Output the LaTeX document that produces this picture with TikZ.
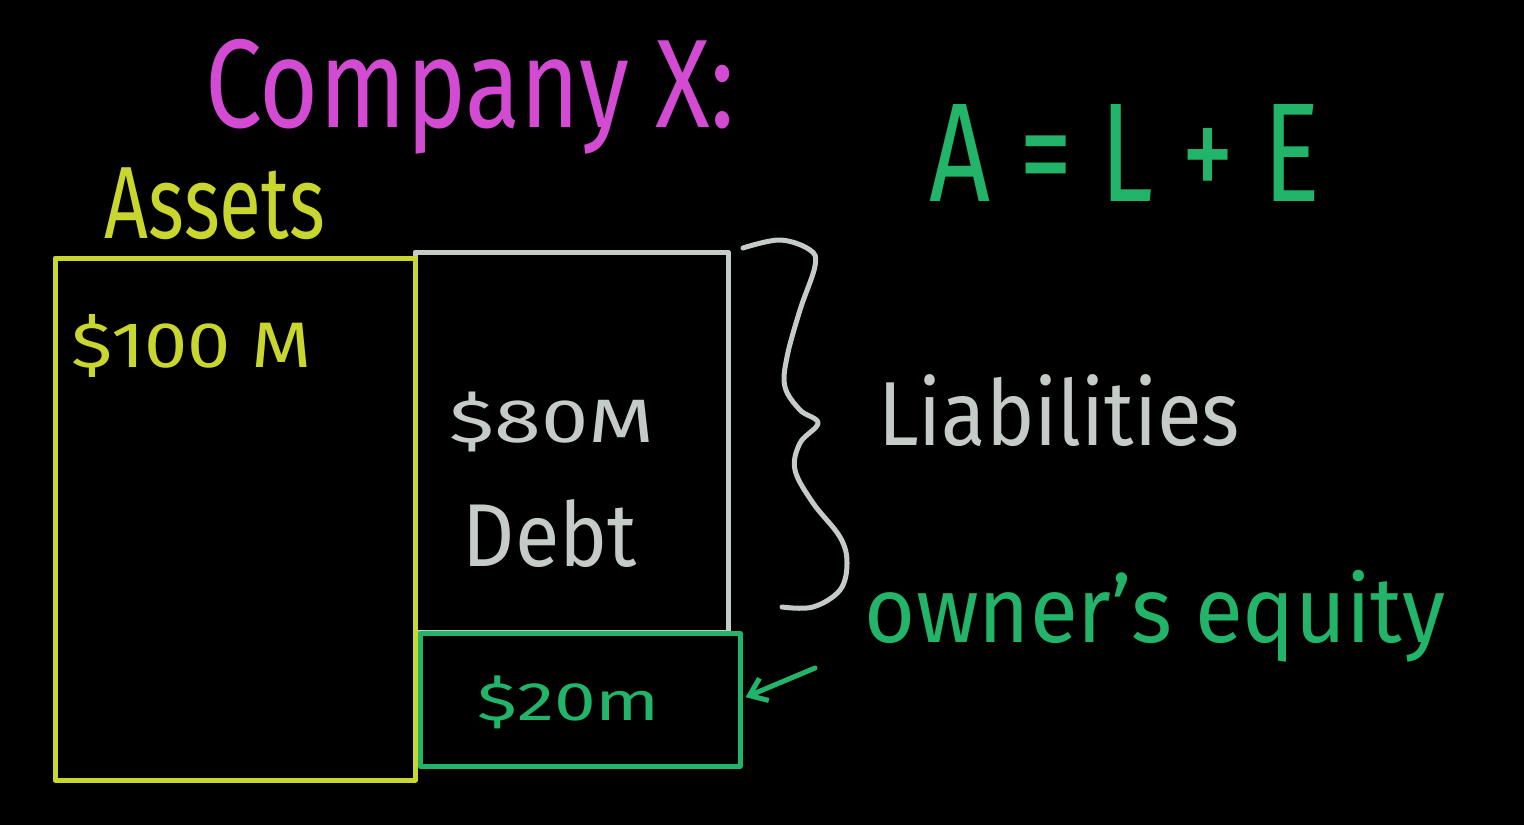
\documentclass[tikz,border=0pt]{standalone}
\usepackage{fontspec}
\usepackage{graphicx}
\setmainfont[Numbers=Lining]{Fira Sans}
\usetikzlibrary{arrows.meta}
\definecolor{cmag}{HTML}{D24BD2}
\definecolor{cyel}{HTML}{C9D62E}
\definecolor{cgry}{HTML}{C5CCC8}
\definecolor{cgrn}{HTML}{22B56A}
\newcommand{\fitbox}[3]{\resizebox*{#1pt}{#2pt}{#3}}
\tikzset{
  hand/.style={line width=2.5pt, line cap=round, line join=round},
  lbl/.style={inner sep=0pt, outer sep=0pt, anchor=center},
  box/.style={hand, draw, inner sep=0pt, outer sep=0pt, anchor=north west},
}
\begin{document}
\begin{tikzpicture}[x=0.5pt,y=-0.5pt]
\fill[black] (0,0) rectangle (1524,825);
\useasboundingbox (0,0) rectangle (1524,825);
% boxes
\node[box, cgry, minimum width=156.5pt, minimum height=190pt] (debt) at (415,252) {};
\node[box, cyel, minimum width=180pt, minimum height=261pt] (assets) at (55,258) {};
\node[box, cgrn, minimum width=160pt, minimum height=66.5pt] (eq) at (420,633) {};
% labels
\node[lbl, cmag] (title) at (470,97) {\fitbox{265}{57.5}{Company X:}};
\node[lbl, cyel] (assetsl) at (215,204) {\fitbox{110}{36}{Assets}};
\node[lbl, cyel] (hundred) at (192,346) {\fitbox{120}{31.5}{\$100 M}};
\node[lbl, cgry] (eighty) at (552,422) {\fitbox{102.5}{30}{\$80M}};
\node[lbl, cgry] (debtl) at (550,534) {\fitbox{87}{34}{Debt}};
\node[lbl, cgrn] (twenty) at (569,702) {\fitbox{91}{26.5}{\$20m}};
\node[lbl, cgry] (liab) at (1059,411) {\fitbox{181}{36}{Liabilities}};
\node[lbl, cgrn] (eqn) at (1125,153) {\fitbox{195}{48.5}{A = L + E}};
\node[lbl, cgrn] (owner) at (1155,616) {\fitbox{290}{46}{owner's equity}};
% brace
\draw[hand, cgry] plot[smooth, tension=0.6] coordinates {(743,248) (780,240) (810,250) (815,266) (800,310) (787,357) (785,387) (800,410) (818,423) (800,443) (795,470) (813,503) (840,537) (847,563) (840,590) (813,607) (782,607)};
% arrow
\coordinate (atail) at (815,668);
\draw[hand, cgrn, -{Straight Barb[length=8pt, width=12pt, line width=2.5pt]}, shorten >=3pt] (atail) -- (eq.east);
\end{tikzpicture}
\end{document}
